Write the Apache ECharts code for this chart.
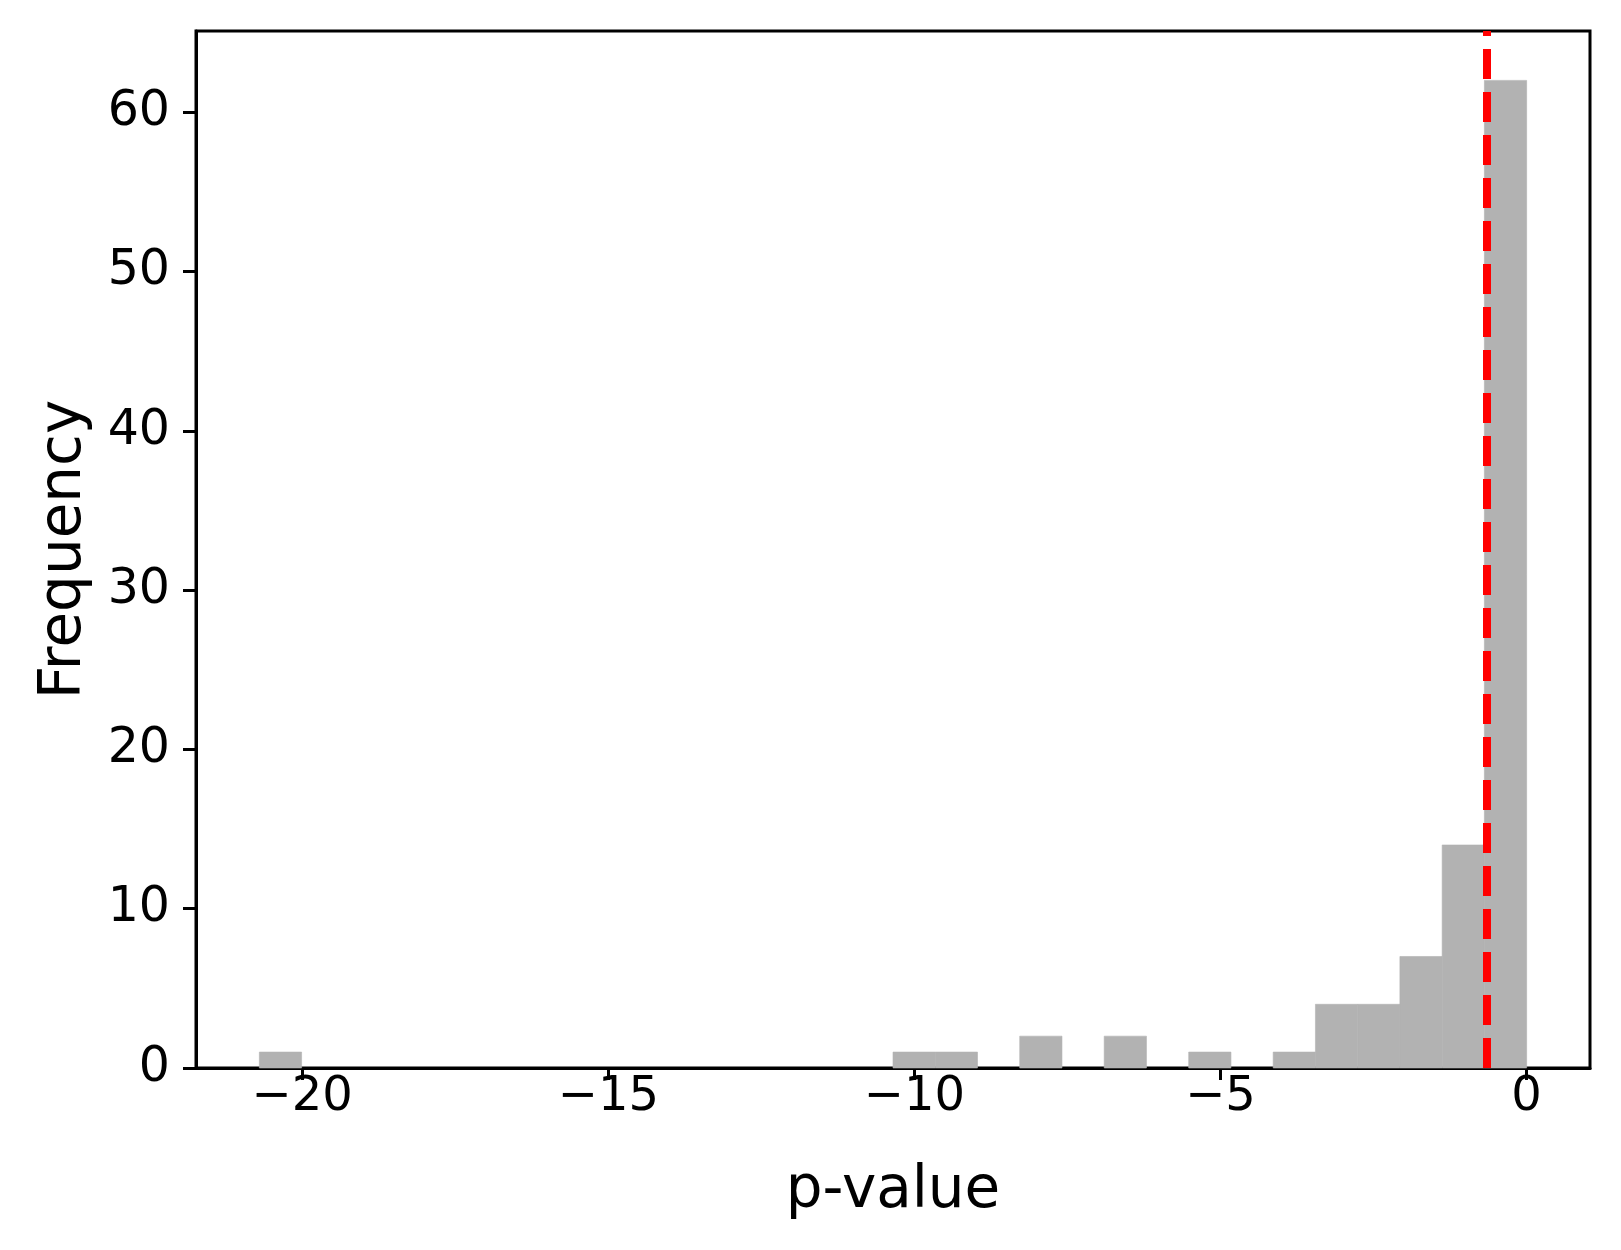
<!DOCTYPE html>
<html>
<head>
<meta charset="utf-8">
<script src="https://cdn.jsdelivr.net/npm/echarts@6/dist/echarts.min.js"></script>
<style>
html,body{margin:0;padding:0;background:#fff;}
#chart{width:1621px;height:1250px;}
</style>
</head>
<body>
<div id="chart"></div>
<script>
// Histogram bin edges
var binEdges = [-20.7, -20.01, -19.32, -18.63, -17.94, -17.25, -16.56, -15.87, -15.18, -14.49,
  -13.8, -13.11, -12.42, -11.73, -11.04, -10.35, -9.66, -8.97, -8.28, -7.59,
  -6.9, -6.21, -5.52, -4.83, -4.14, -3.45, -2.76, -2.07, -1.38, -0.69, 0];
// Counts per bin
var counts = [1, 0, 0, 0, 0, 0, 0, 0, 0, 0,
  0, 0, 0, 0, 0, 1, 1, 0, 2, 0,
  2, 0, 1, 0, 1, 4, 4, 7, 14, 62];
var threshold = -0.645;
var xTicks = [-20, -15, -10, -5, 0];
var yTicks = [0, 10, 20, 30, 40, 50, 60];

var data = [];
for (var i = 0; i < counts.length; i++) {
  if (counts[i] > 0) data.push([binEdges[i], binEdges[i + 1], counts[i]]);
}

var font = 'DejaVu Sans';
var chart = echarts.init(document.getElementById('chart'), null, {renderer: 'canvas'});
chart.setOption({
  animation: false,
  backgroundColor: '#fff',
  grid: {left: 196, right: 31, top: 31, bottom: 182, show: true, borderColor: '#000', borderWidth: 3, backgroundColor: 'transparent'},
  xAxis: {
    type: 'value', min: -21.735, max: 1.035,
    name: 'p-value', nameLocation: 'middle', nameGap: 95,
    nameTextStyle: {fontFamily: font, fontSize: 58, color: '#000'},
    axisLine: {show: true, onZero: false, lineStyle: {color: '#000', width: 3}},
    axisTick: {show: true, inside: false, length: 12, lineStyle: {color: '#000', width: 3}, customValues: xTicks},
    axisLabel: {fontFamily: font, fontSize: 48, color: '#000', margin: 6, customValues: xTicks,
      formatter: function (v) { return v < 0 ? '\u2212' + Math.abs(v) : String(v); }},
    splitLine: {show: false}
  },
  yAxis: {
    type: 'value', min: 0, max: 65.1,
    name: 'Frequency', nameLocation: 'middle', nameGap: 102, nameRotate: 90,
    nameTextStyle: {fontFamily: font, fontSize: 58, color: '#000'},
    axisLine: {show: true, onZero: false, lineStyle: {color: '#000', width: 3}},
    axisTick: {show: true, inside: false, length: 13, lineStyle: {color: '#000', width: 3}, customValues: yTicks},
    axisLabel: {fontFamily: font, fontSize: 49, color: '#000', margin: 26, customValues: yTicks},
    splitLine: {show: false}
  },
  series: [{
    type: 'custom',
    data: data,
    encode: {x: [0, 1], y: 2},
    renderItem: function (params, api) {
      var p0 = api.coord([api.value(0), api.value(2)]);
      var p1 = api.coord([api.value(1), 0]);
      return {
        type: 'rect',
        shape: {x: p0[0], y: p0[1], width: p1[0] - p0[0], height: p1[1] - p0[1]},
        style: {fill: '#b2b2b2', stroke: '#b2b2b2', lineWidth: 0.6}
      };
    },
    markLine: {
      silent: true, symbol: ['none', 'none'],
      label: {show: false},
      lineStyle: {color: '#ff0000', width: 8, type: [30, 13]},
      data: [[{coord: [threshold, 0]}, {coord: [threshold, 65.1]}]]
    }
  }]
});
</script>
</body>
</html>
